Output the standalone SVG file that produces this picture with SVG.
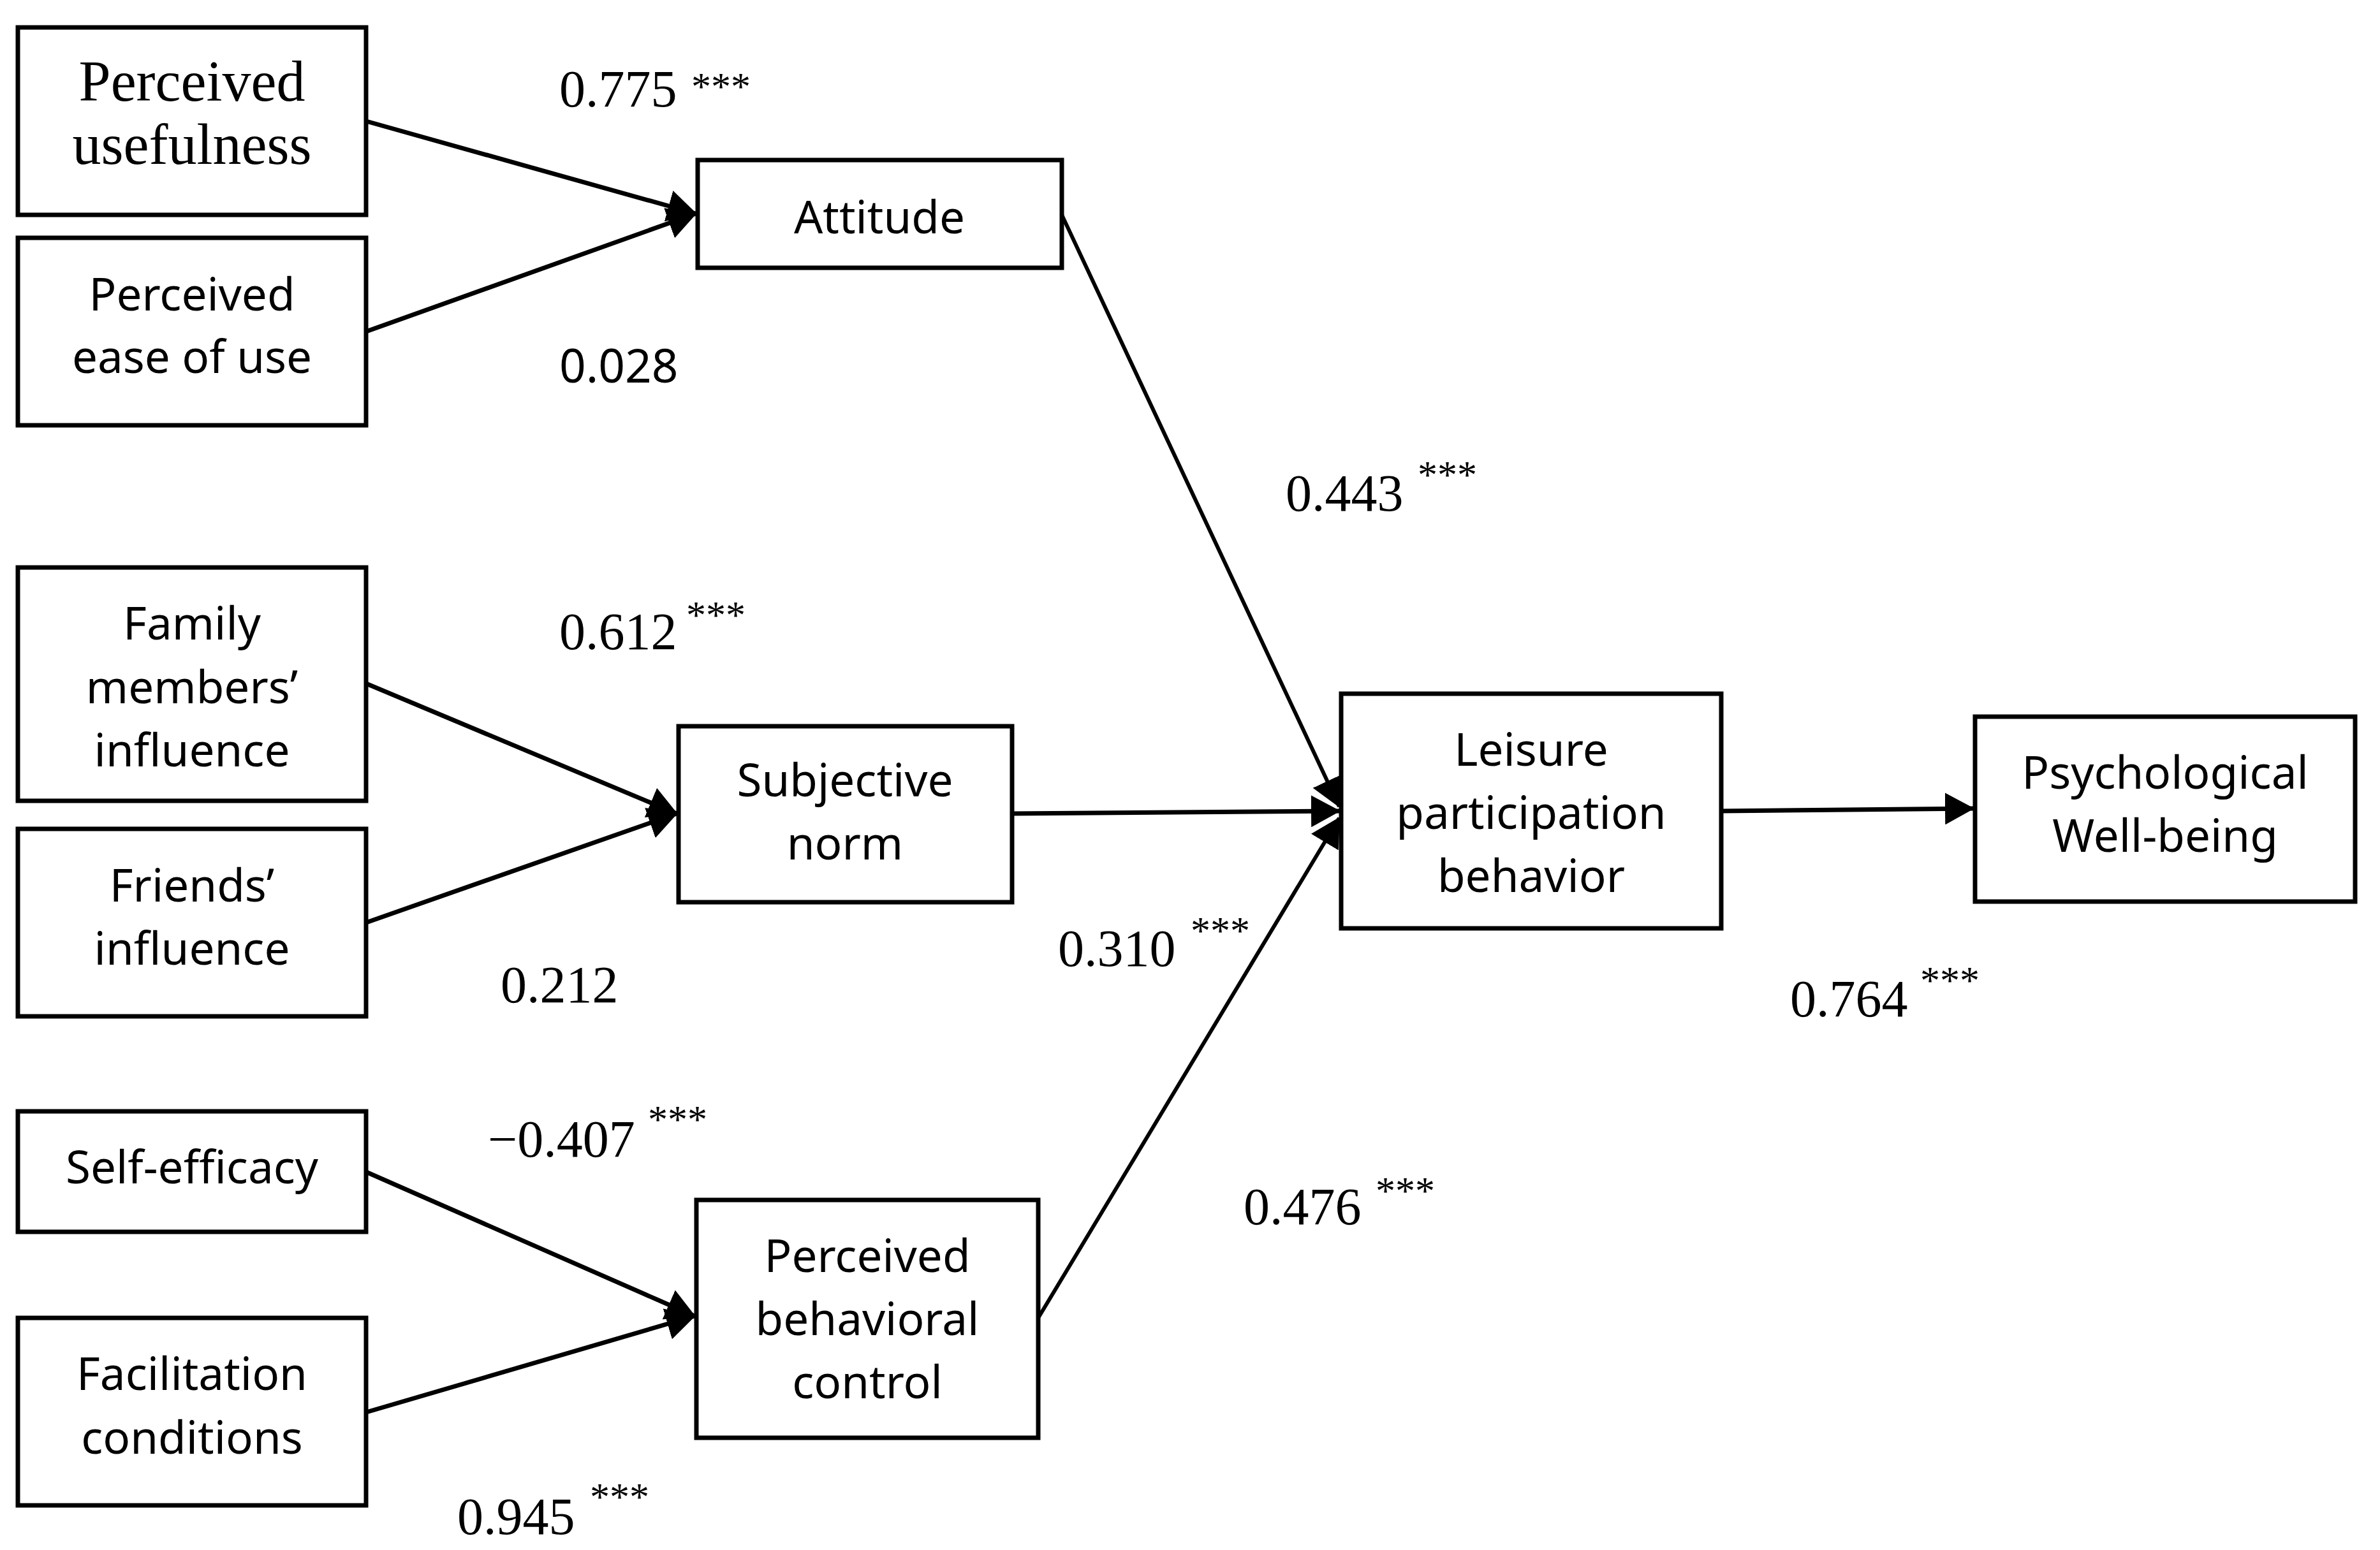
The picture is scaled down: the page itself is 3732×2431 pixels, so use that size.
<svg xmlns="http://www.w3.org/2000/svg" width="3732" height="2431" viewBox="0 0 3732 2431">
<style>
.box{fill:#fff;stroke:#000;stroke-width:7}
.lbl{font-family:"Noto Sans","Liberation Sans",sans-serif;font-size:71px;fill:#000;text-anchor:middle}
.lbls{font-family:"Liberation Serif","Times New Roman",serif;font-size:90px;fill:#000;text-anchor:middle}
.num{font-family:"Liberation Serif","Times New Roman",serif;font-size:82px;fill:#000}
.numsans{font-family:"Noto Sans","Liberation Sans",sans-serif;font-size:73px;fill:#000}
.star{font-family:"Liberation Serif","Times New Roman",serif;font-size:62px;fill:#000}
.c{fill:none;stroke:#000;stroke-width:7;marker-end:url(#ah)}
.cthin{fill:none;stroke:#000;stroke-width:6;marker-end:url(#ah)}
</style>
<defs>
<marker id="ah" markerUnits="userSpaceOnUse" viewBox="0 0 46 50" markerWidth="46" markerHeight="50" refX="44" refY="25" orient="auto">
<path d="M0,0 L46,25 L0,50 z" fill="#000"/>
</marker>
</defs>
<rect width="3732" height="2431" fill="#fff"/>
<g id="connectors">
<line class="c" x1="574" y1="190" x2="1091" y2="335"/>
<line class="c" x1="574" y1="520" x2="1091" y2="335"/>
<line class="c" x1="574" y1="1072" x2="1061" y2="1276"/>
<line class="c" x1="574" y1="1447" x2="1061" y2="1276"/>
<line class="c" x1="574" y1="1838" x2="1089" y2="2064"/>
<line class="c" x1="574" y1="2215" x2="1089" y2="2064"/>
<line class="cthin" x1="1665" y1="337" x2="2100" y2="1265"/>
<line class="c" x1="1587" y1="1276" x2="2100" y2="1272"/>
<line class="cthin" x1="1628" y1="2067" x2="2100" y2="1283"/>
<line class="c" x1="2699" y1="1272" x2="3094" y2="1268"/>
</g>
<g id="n-pu"><rect class="box" x="28" y="43" width="546" height="294"/><text class="lbls" x="301" y="158">Perceived</text><text class="lbls" x="301" y="257">usefulness</text></g>
<g id="n-peou"><rect class="box" x="28" y="373" width="546" height="294"/><text class="lbl" x="301" y="487">Perceived</text><text class="lbl" x="301" y="585">ease of use</text></g>
<g id="n-att"><rect class="box" x="1094" y="251" width="571" height="169"/><text class="lbl" x="1379" y="366">Attitude</text></g>
<g id="n-fam"><rect class="box" x="28" y="890" width="546" height="366"/><text class="lbl" x="301" y="1003">Family</text><text class="lbl" x="301" y="1103">members’</text><text class="lbl" x="301" y="1202">influence</text></g>
<g id="n-fri"><rect class="box" x="28" y="1300" width="546" height="294"/><text class="lbl" x="301" y="1414">Friends’</text><text class="lbl" x="301" y="1513">influence</text></g>
<g id="n-sn"><rect class="box" x="1064" y="1139" width="523" height="276"/><text class="lbl" x="1325" y="1249">Subjective</text><text class="lbl" x="1325" y="1348">norm</text></g>
<g id="n-se"><rect class="box" x="28" y="1743" width="546" height="189"/><text class="lbl" x="301" y="1856">Self-efficacy</text></g>
<g id="n-fc"><rect class="box" x="28" y="2067" width="546" height="294"/><text class="lbl" x="301" y="2180">Facilitation</text><text class="lbl" x="301" y="2280">conditions</text></g>
<g id="n-pbc"><rect class="box" x="1092" y="1882" width="536" height="373"/><text class="lbl" x="1360" y="1995">Perceived</text><text class="lbl" x="1360" y="2094">behavioral</text><text class="lbl" x="1360" y="2193">control</text></g>
<g id="n-lpb"><rect class="box" x="2103" y="1088" width="596" height="368"/><text class="lbl" x="2401" y="1201">Leisure</text><text class="lbl" x="2401" y="1300">participation</text><text class="lbl" x="2401" y="1399">behavior</text></g>
<g id="n-pwb"><rect class="box" x="3097" y="1124" width="596" height="290"/><text class="lbl" x="3395" y="1237">Psychological</text><text class="lbl" x="3395" y="1336">Well-being</text></g>
<g id="labels">
<text class="num" x="877" y="167">0.775</text><text class="star" x="1084" y="156">***</text>
<text class="numsans" x="877" y="600">0.028</text>
<text class="num" x="877" y="1018">0.612</text><text class="star" x="1076" y="985">***</text>
<text class="num" x="785" y="1572">0.212</text>
<text class="num" x="2016" y="801">0.443</text><text class="star" x="2223" y="765">***</text>
<text class="num" x="1659" y="1515">0.310</text><text class="star" x="1867" y="1480">***</text>
<text class="num" x="765" y="1814">−0.407</text><text class="star" x="1016" y="1776">***</text>
<text class="num" x="717" y="2406">0.945</text><text class="star" x="925" y="2368">***</text>
<text class="num" x="1950" y="1920">0.476</text><text class="star" x="2157" y="1888">***</text>
<text class="num" x="2807" y="1594">0.764</text><text class="star" x="3011" y="1558">***</text>
</g>
</svg>
